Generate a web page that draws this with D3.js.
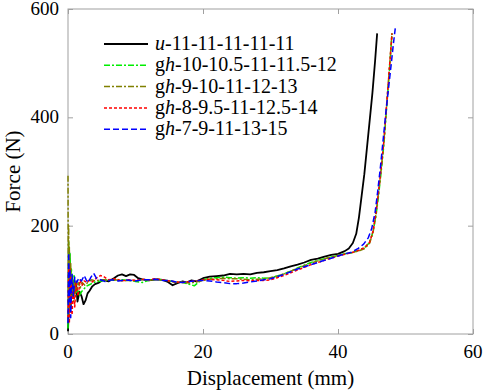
<!DOCTYPE html>
<html><head><meta charset="utf-8">
<script src="https://cdn.jsdelivr.net/npm/d3@7"></script>
</head>
<body style="margin:0">
<div id="chart"></div>
<script>
// series: [displacement (mm), force (N)]
var uData = [[0,5],[0.1,40],[0.2,150],[0.3,110],[0.4,50],[0.5,95],[0.6,70],[0.8,90],[1.0,75],[1.2,95],[1.4,60],[1.7,78],[2.0,70],[2.3,55],[2.6,62],[2.9,75],[3.2,80],[3.6,88],[4.0,92],[4.6,95],[5.2,100],[6.0,97],[6.8,103],[7.4,108],[8.0,110],[8.6,107],[9.2,110],[9.8,109],[10.4,103],[11,101],[12,99],[13,101],[14,100],[14.8,96],[15.5,90],[16.2,94],[17,97],[17.6,95],[18.3,99],[19,97],[20,103],[21,106],[22,107],[23,108],[24,111],[25,110],[26,111],[27,110],[28,113],[29,114],[30,116],[31,118],[32,121],[33,125],[34,128],[35,132],[36,137],[37,139],[38,143],[39,146],[40,148],[41,153],[41.6,158],[42.2,168],[42.7,185],[43.1,215],[43.5,255],[43.9,295],[44.3,345],[44.7,395],[45.1,445],[45.5,505],[45.8,555]];

var gh10Data = [[0,10],[0.1,170],[0.2,90],[0.3,150],[0.4,60],[0.5,120],[0.7,75],[0.9,110],[1.1,70],[1.4,85],[1.7,72],[2.0,78],[2.3,82],[2.7,88],[3.0,90],[3.5,93],[4.0,96],[5,98],[6,100],[7,99],[8,100],[9,99],[10,97],[11,95],[12,99],[13,101],[14,100],[15,98],[16,96],[17,95],[18,92],[18.7,89],[19.5,97],[20,100],[21,103],[22,104],[23,105],[24,104],[25,103],[26,104],[27,103],[28,104],[29,103],[30,104],[31,107],[32,111],[33,116],[34,122],[35,127],[36,132],[37,136],[38,139],[39,142],[40,145],[41,148],[42,150],[43,154],[44,160],[44.6,168],[45.1,185],[45.6,215],[46.0,255],[46.4,300],[46.8,350],[47.1,400],[47.4,450],[47.7,500],[48,555]];

var gh9Data = [[0,292],[0.05,60],[0.1,200],[0.15,40],[0.2,160],[0.3,50],[0.4,130],[0.5,70],[0.6,110],[0.8,60],[1.0,100],[1.2,80],[1.5,95],[1.8,85],[2.1,95],[2.5,90],[3,96],[3.5,100],[4,98],[5,100],[6,99],[7,100],[8,98],[9,99],[10,98],[11,100],[12,99],[13,101],[14,100],[15,98],[16,95],[17,96],[18,94],[19,96],[20,99],[21,101],[22,102],[23,103],[24,102],[25,102],[26,101],[27,100],[28,101],[29,102],[30,104],[31,107],[32,111],[33,116],[34,121],[35,126],[36,131],[37,135],[38,139],[39,142],[40,145],[41,148],[42,150],[43,153],[44,158],[44.7,168],[45.2,188],[45.6,220],[46.0,260],[46.4,305],[46.8,355],[47.1,405],[47.4,455],[47.7,505],[48,555]];

var gh8Data = [[0,30],[0.1,130],[0.2,20],[0.3,120],[0.4,40],[0.5,100],[0.6,35],[0.8,90],[1.0,50],[1.2,95],[1.5,70],[1.8,100],[2.1,90],[2.4,98],[2.8,95],[3.2,100],[3.6,96],[4.2,103],[4.8,108],[5.3,106],[6,100],[7,102],[8,98],[9,100],[10,99],[11,101],[12,100],[13,102],[14,100],[15,98],[16,96],[17,95],[18,97],[19,98],[20,100],[21,101],[22,100],[23,99],[24,97],[25,98],[26,99],[27,98],[28,99],[29,99],[30,100],[31,104],[32,108],[33,113],[34,118],[35,123],[36,128],[37,132],[38,136],[39,140],[40,144],[41,147],[42,150],[43,154],[44,160],[44.7,170],[45.2,190],[45.6,222],[46.0,262],[46.4,307],[46.8,357],[47.1,407],[47.4,455],[47.7,505],[48,555]];

var gh7Data = [[0,20],[0.1,150],[0.2,60],[0.3,120],[0.4,30],[0.5,80],[0.6,110],[0.8,70],[1.0,105],[1.3,95],[1.6,103],[2.0,98],[2.4,108],[2.7,100],[3.0,95],[3.4,105],[3.8,112],[4.2,103],[4.8,100],[5.5,97],[6.5,100],[7.5,98],[8.5,100],[10,98],[11,100],[12,100],[13,101],[14,99],[15,99],[16,96],[17,95],[18,97],[19,98],[20,99],[21,98],[22,96],[23,95],[24,93],[25,93],[26,94],[27,96],[28,98],[29,100],[30,102],[31,106],[32,110],[33,115],[34,120],[35,124],[36,128],[37,132],[38,136],[39,140],[40,144],[41,148],[42,151],[43,158],[43.8,166],[44.5,178],[45.0,195],[45.5,225],[45.9,265],[46.3,310],[46.7,360],[47.1,410],[47.5,455],[47.9,500],[48.2,535],[48.5,566]];

var xTicks = [0, 20, 40, 60];
var yTicks = [0, 200, 400, 600];

var series = [
  {prefix: "u", rest: "-11-11-11-11-11", data: uData, color: "#000000", dash: null, width: 1.8},
  {prefix: "gh", rest: "-10-10.5-11-11.5-12", data: gh10Data, color: "#00ee00", dash: "6,2,2,2", width: 1.5},
  {prefix: "gh", rest: "-9-10-11-12-13", data: gh9Data, color: "#808000", dash: "6,2,2,2", width: 1.5},
  {prefix: "gh", rest: "-8-9.5-11-12.5-14", data: gh8Data, color: "#ff0000", dash: "3,2", width: 1.5},
  {prefix: "gh", rest: "-7-9-11-13-15", data: gh7Data, color: "#0000ff", dash: "6,3", width: 1.5}
];

var FONT = "Liberation Serif";

var margin = {top: 9, right: 11, bottom: 56, left: 68},
    W = 484, H = 390,
    width = W - margin.left - margin.right,
    height = H - margin.top - margin.bottom;

var x = d3.scaleLinear().domain([0, 60]).range([0, width]),
    y = d3.scaleLinear().domain([0, 600]).range([height, 0]);

var svg = d3.select("#chart").append("svg")
    .attr("width", W)
    .attr("height", H);

var g = svg.append("g")
    .attr("transform", "translate(" + margin.left + "," + margin.top + ")");

var axisColor = "#a0a0a0";

// box
g.append("rect")
    .attr("width", width)
    .attr("height", height)
    .attr("fill", "none")
    .attr("stroke", axisColor)
    .attr("stroke-width", 1);

// tick marks point inward on all four sides; labels drawn by hand below
function tickLines(sel) {
    sel.select(".domain").remove();
    sel.selectAll(".tick line").attr("stroke", axisColor);
}

g.append("g")
    .attr("transform", "translate(0," + height + ")")
    .call(d3.axisBottom(x).tickValues(xTicks).tickSize(-5).tickFormat(""))
    .call(tickLines);

g.append("g")
    .call(d3.axisTop(x).tickValues(xTicks).tickSize(-5).tickFormat(""))
    .call(tickLines);

g.append("g")
    .call(d3.axisLeft(y).tickValues(yTicks).tickSize(-5).tickFormat(""))
    .call(tickLines);

g.append("g")
    .attr("transform", "translate(" + width + ",0)")
    .call(d3.axisRight(y).tickValues(yTicks).tickSize(-5).tickFormat(""))
    .call(tickLines);

xTicks.forEach(function (v) {
    g.append("text")
        .attr("x", x(v))
        .attr("y", height + 24)
        .attr("text-anchor", "middle")
        .attr("font-family", FONT)
        .attr("font-size", 19)
        .text(v);
});

yTicks.forEach(function (v) {
    g.append("text")
        .attr("x", -9)
        .attr("y", y(v) + 6)
        .attr("text-anchor", "end")
        .attr("font-family", FONT)
        .attr("font-size", 19)
        .text(v);
});

// curves
var line = d3.line()
    .x(function (d) { return x(d[0]); })
    .y(function (d) { return y(d[1]); });

series.forEach(function (s) {
    g.append("path")
        .datum(s.data)
        .attr("fill", "none")
        .attr("stroke", s.color)
        .attr("stroke-width", s.width)
        .attr("stroke-dasharray", s.dash)
        .attr("stroke-linejoin", "round")
        .attr("d", line);
});

// legend
var legend = g.append("g").attr("transform", "translate(36,35)");
series.forEach(function (s, i) {
    var row = legend.append("g").attr("transform", "translate(0," + (i * 21.3) + ")");
    row.append("line")
        .attr("x1", 0).attr("x2", 44)
        .attr("y1", 0).attr("y2", 0)
        .attr("stroke", s.color)
        .attr("stroke-width", s.width)
        .attr("stroke-dasharray", s.dash);
    var t = row.append("text")
        .attr("x", 51)
        .attr("y", 6)
        .attr("font-family", FONT)
        .attr("font-size", 20);
    if (s.prefix === "u") {
        t.append("tspan").attr("font-style", "italic").text("u");
    } else {
        t.append("tspan").text("g");
        t.append("tspan").attr("font-style", "italic").text("h");
    }
    t.append("tspan").text(s.rest);
});

// axis titles
svg.append("text")
    .attr("x", margin.left + width / 2)
    .attr("y", 385)
    .attr("text-anchor", "middle")
    .attr("font-family", FONT)
    .attr("font-size", 21)
    .text("Displacement (mm)");

svg.append("text")
    .attr("transform", "translate(20," + (margin.top + height / 2) + ") rotate(-90)")
    .attr("text-anchor", "middle")
    .attr("font-family", FONT)
    .attr("font-size", 21)
    .text("Force (N)");
</script>
</body></html>
